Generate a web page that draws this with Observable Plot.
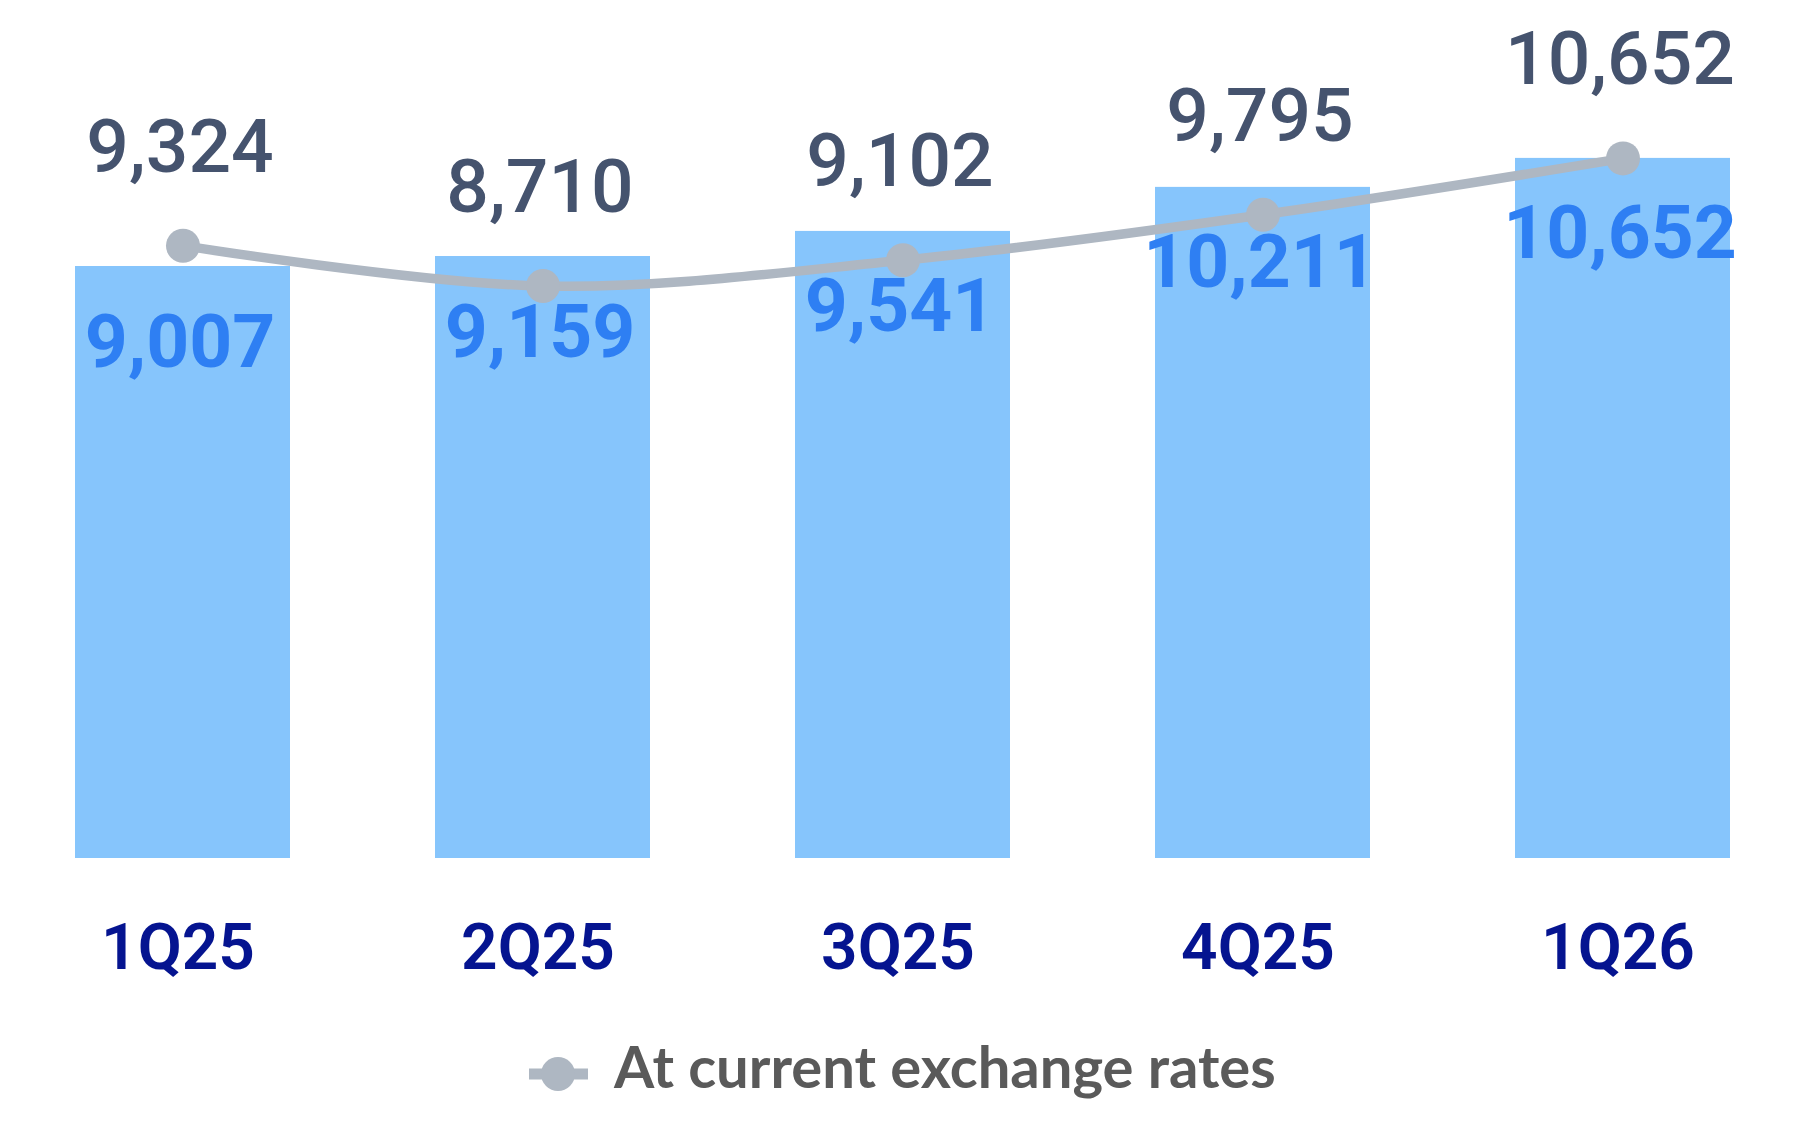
<!DOCTYPE html>
<html>
<head>
<meta charset="utf-8">
<script src="https://cdn.jsdelivr.net/npm/d3@7"></script>
<script src="https://cdn.jsdelivr.net/npm/@observablehq/plot@0.6"></script>
<style>
  html, body { margin: 0; padding: 0; background: #ffffff; }
  #wrap { width: 1800px; height: 1128px; font-family: Roboto, sans-serif; }
  #wrap svg { display: block; }
</style>
</head>
<body>
<div id="wrap">
  <div id="chart"></div>
  <div id="legend"></div>
</div>
<script>
const quarters = ["1Q25", "2Q25", "3Q25", "4Q25", "1Q26"];
const constantRates = [9007, 9159, 9541, 10211, 10652];   // bars
const currentRates = [9324, 8710, 9102, 9795, 10652];     // line
const legendLabel = "At current exchange rates";

const data = quarters.map((q, i) => ({ q, bar: constantRates[i], line: currentRates[i] }));
const fmt = d3.format(",");

const barColor = "#86c5fc";
const lineColor = "#aeb7c2";

const chart = Plot.plot({
  width: 1800,
  height: 1010,
  marginTop: 20,
  marginBottom: 152,
  marginLeft: 75,
  marginRight: 70,
  style: { fontFamily: "Roboto, sans-serif", background: "#ffffff", overflow: "visible" },
  x: { domain: quarters, paddingInner: 0.403, paddingOuter: 0, label: null },
  y: { domain: [0, 12750], axis: null },
  marks: [
    Plot.barY(data, { x: "q", y: "bar", fill: barColor }),
    Plot.line(data, { x: "q", y: "line", stroke: lineColor, strokeWidth: 9.5, curve: "catmull-rom" }),
    Plot.dot(data, { x: "q", y: "line", r: 17, fill: lineColor, stroke: "none" }),
    Plot.text(data, { x: "q", y: "line", text: d => fmt(d.line), lineAnchor: "bottom", dy: -74, dx: -3,
      fontSize: 75, fontWeight: 500, fill: "#45536e" }),
    Plot.text(data, { x: "q", y: "bar", text: d => fmt(d.bar), lineAnchor: "bottom", dy: 100, dx: -3,
      fontSize: 75, fontWeight: 700, fill: "#2e7ff3" }),
    Plot.axisX({ tickSize: 0, tickPadding: 65, fontSize: 64, fontWeight: 600, fill: "#051490", label: null, dx: -5 })
  ]
});
document.getElementById("chart").appendChild(chart);

// legend below the chart
const leg = d3.create("svg").attr("width", 1800).attr("height", 118);
leg.append("line").attr("x1", 529).attr("x2", 588).attr("y1", 64).attr("y2", 64)
  .attr("stroke", lineColor).attr("stroke-width", 11);
leg.append("circle").attr("cx", 558).attr("cy", 64).attr("r", 17).attr("fill", lineColor);
leg.append("text").attr("x", 614).attr("y", 78)
  .attr("font-family", "Lato, 'Open Sans', sans-serif").attr("font-size", 58).attr("font-weight", 700)
  .attr("fill", "#5a5a5a").text(legendLabel);
document.getElementById("legend").appendChild(leg.node());
</script>
</body>
</html>
